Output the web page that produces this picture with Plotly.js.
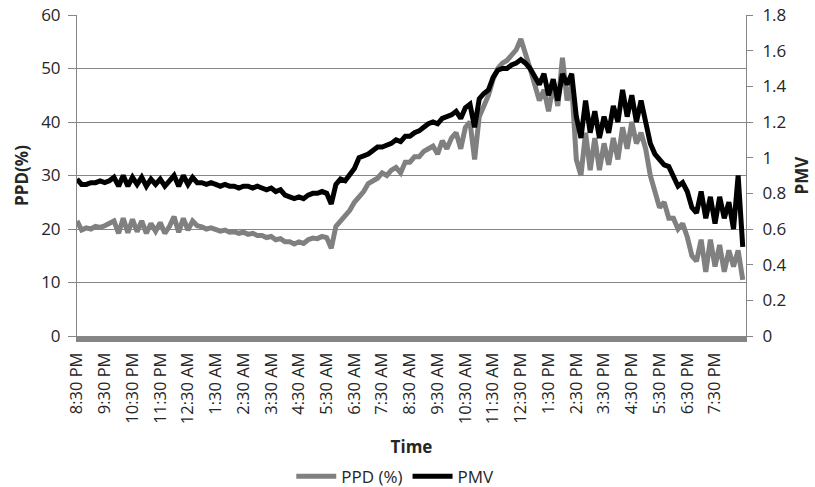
<!DOCTYPE html>
<html>
<head>
<meta charset="utf-8">
<script src="https://cdn.plot.ly/plotly-3.0.1.min.js"></script>
<style>
html,body{margin:0;padding:0;background:#fff;}
#chart{width:815px;height:487px;}
</style>
</head>
<body>
<div id="chart"></div>
<script>
// Sampling: one reading every 10 minutes, starting 8:30 PM
var stepMinutes = 10;

// Hour tick labels (category axis)
var tickLabels = ["8:30 PM","9:30 PM","10:30 PM","11:30 PM","12:30 AM","1:30 AM","2:30 AM","3:30 AM",
  "4:30 AM","5:30 AM","6:30 AM","7:30 AM","8:30 AM","9:30 AM","10:30 AM","11:30 AM",
  "12:30 PM","1:30 PM","2:30 PM","3:30 PM","4:30 PM","5:30 PM","6:30 PM","7:30 PM"];

// PPD (%) - left axis
var ppd = [
  21.5, 19.8, 20.2, 20.0, 20.5, 20.3, 20.6, 21.0, 21.5, 19.2,
  22.0, 19.3, 21.8, 19.5, 21.5, 19.2, 21.0, 19.6, 21.2, 19.2,
  20.5, 22.3, 19.4, 22.0, 19.8, 21.5, 20.6, 20.4, 20.0, 20.2,
  19.8, 19.6, 19.8, 19.4, 19.5, 19.2, 19.4, 19.0, 19.2, 18.8,
  18.8, 18.4, 18.6, 18.0, 18.2, 17.6, 17.6, 17.2, 17.6, 17.3,
  18.0, 18.3, 18.2, 18.6, 18.4, 16.4, 20.5, 21.5, 22.5, 23.5,
  25.0, 26.0, 27.0, 28.5, 29.0, 29.5, 30.5, 30.0, 31.0, 31.5,
  30.5, 32.5, 32.5, 33.5, 33.5, 34.5, 35.0, 35.5, 34.0, 36.5,
  35.0, 37.0, 38.0, 35.0, 39.0, 40.0, 33.0, 41.0, 43.0, 45.0,
  48.0, 50.0, 51.0, 51.5, 52.5, 53.5, 55.5, 53.0, 50.0, 47.0,
  44.0, 46.0, 42.0, 47.0, 43.0, 52.0, 44.0, 47.0, 33.0, 30.0,
  38.0, 31.0, 37.0, 31.0, 36.0, 32.0, 37.0, 33.0, 39.0, 35.0,
  40.0, 36.0, 38.0, 35.0, 30.0, 27.0, 24.0, 25.0, 22.0, 22.0,
  20.0, 21.0, 18.5, 15.0, 14.0, 18.0, 12.0, 18.0, 13.0, 17.0,
  12.0, 16.0, 13.0, 16.0, 10.5
];

// PMV - right axis
var pmv = [
  0.88, 0.85, 0.85, 0.86, 0.86, 0.87, 0.86, 0.87, 0.89, 0.84,
  0.90, 0.84, 0.89, 0.85, 0.89, 0.84, 0.88, 0.85, 0.88, 0.84,
  0.87, 0.90, 0.84, 0.90, 0.85, 0.89, 0.86, 0.86, 0.85, 0.86,
  0.85, 0.84, 0.85, 0.84, 0.84, 0.83, 0.84, 0.84, 0.83, 0.84,
  0.83, 0.82, 0.83, 0.81, 0.82, 0.79, 0.78, 0.77, 0.78, 0.77,
  0.79, 0.80, 0.80, 0.81, 0.80, 0.74, 0.85, 0.88, 0.87, 0.90,
  0.94, 1.00, 1.01, 1.02, 1.04, 1.06, 1.06, 1.07, 1.08, 1.10,
  1.09, 1.12, 1.12, 1.14, 1.15, 1.17, 1.19, 1.20, 1.19, 1.22,
  1.23, 1.24, 1.26, 1.22, 1.28, 1.30, 1.17, 1.33, 1.36, 1.38,
  1.45, 1.49, 1.50, 1.50, 1.52, 1.53, 1.55, 1.53, 1.50, 1.46,
  1.41, 1.47, 1.35, 1.44, 1.32, 1.47, 1.41, 1.47, 1.23, 1.11,
  1.32, 1.14, 1.26, 1.11, 1.23, 1.14, 1.29, 1.20, 1.38, 1.23,
  1.35, 1.20, 1.32, 1.20, 1.08, 1.02, 0.99, 0.96, 0.95, 0.90,
  0.84, 0.86, 0.81, 0.72, 0.69, 0.81, 0.66, 0.78, 0.63, 0.78,
  0.66, 0.75, 0.60, 0.90, 0.50
];

var minutes = ppd.map(function(_, i){ return i * stepMinutes; });
var tickVals = tickLabels.map(function(_, i){ return i * 60; });

var font = "'Open Sans', sans-serif";
var txt = "#262626";
var axisGray = "#868686";

var traces = [
  {x: minutes, y: ppd, name: "PPD (%)", type: "scatter", mode: "lines",
   line: {color: "#808080", width: 5}, yaxis: "y"},
  {x: minutes, y: pmv, name: "PMV", type: "scatter", mode: "lines",
   line: {color: "#000000", width: 5}, yaxis: "y2"}
];

var layout = {
  width: 815, height: 487,
  margin: {l: 77, r: 69, t: 15, b: 151, pad: 0},
  paper_bgcolor: "#fff", plot_bgcolor: "#fff",
  font: {family: font, size: 17, color: txt},
  showlegend: true,
  legend: {orientation: "h", xref: "container", yref: "container",
           x: 0.485, xanchor: "center", y: 0.021, yanchor: "middle",
           font: {family: font, size: 17, color: txt}, itemwidth: 40, tracegroupgap: 0},
  xaxis: {
    range: [0, 1447], tickmode: "array", tickvals: tickVals, ticktext: tickLabels,
    tickangle: -90, showgrid: false, zeroline: false,
    showline: true, linecolor: "#858585", linewidth: 6,
    ticks: "", ticklabelstandoff: 4,
    tickfont: {family: font, size: 16.5, color: txt},
    title: {text: "<b>Time</b>", font: {family: font, size: 17, color: txt}, standoff: 20},
    automargin: false
  },
  yaxis: {
    range: [0, 60], dtick: 10, tick0: 0, showgrid: true, gridcolor: axisGray, gridwidth: 1,
    zeroline: false, showline: true, linecolor: axisGray, linewidth: 1,
    ticks: "outside", ticklen: 8, tickcolor: axisGray, ticklabelstandoff: 4,
    tickfont: {family: font, size: 17, color: txt},
    title: {text: "<b>PPD(%)</b>", font: {family: font, size: 17, color: txt}, standoff: 8},
    automargin: false
  },
  yaxis2: {
    range: [0, 1.8], dtick: 0.2, tick0: 0, overlaying: "y", side: "right",
    showgrid: false, zeroline: false, showline: true, linecolor: axisGray, linewidth: 1,
    ticks: "outside", ticklen: 6, tickcolor: axisGray, ticklabelstandoff: 6,
    tickfont: {family: font, size: 17, color: txt},
    title: {text: "<b>PMV</b>", font: {family: font, size: 17, color: txt}, standoff: 10},
    automargin: false
  }
};

Plotly.newPlot("chart", traces, layout, {staticPlot: true, displayModeBar: false});
</script>
</body>
</html>
